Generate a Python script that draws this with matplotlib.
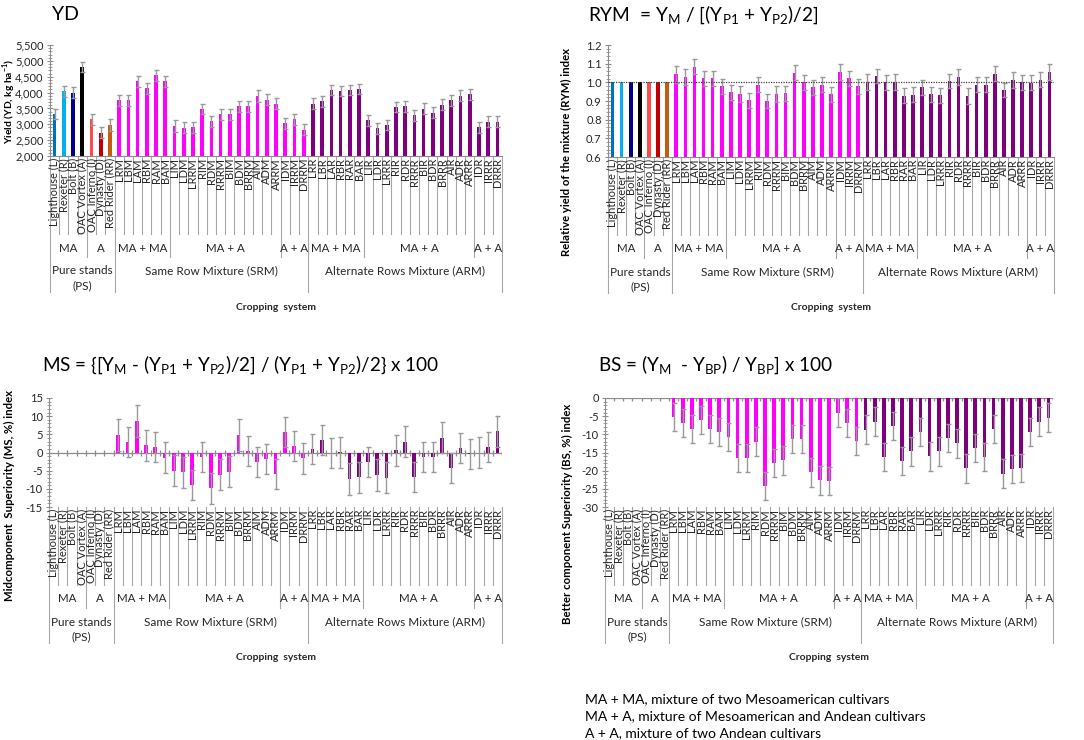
import numpy as np
import matplotlib
matplotlib.use('Agg')
import matplotlib.pyplot as plt
import matplotlib.transforms as mtransforms
from matplotlib.ticker import MultipleLocator, StrMethodFormatter

plt.rcParams['font.family'] = ['Lato', 'DejaVu Sans']
plt.rcParams['mathtext.fontset'] = 'custom'
plt.rcParams['mathtext.rm'] = 'Lato'
plt.rcParams['mathtext.bf'] = 'Lato:bold'
plt.rcParams['axes.unicode_minus'] = False

# --- data ---
pure = ['Lighthouse (L)', 'Rexeter (R)', 'Bolt (B)', 'OAC Vortex (A)',
        'OAC Inferno (I)', 'Dynasty (D)', 'Red Rider (RR)']
srm = ['LRM', 'LBM', 'LAM', 'RBM', 'RAM', 'BAM',
       'LIM', 'LDM', 'LRRM', 'RIM', 'RDM', 'RRRM', 'BIM', 'BDM', 'BRRM', 'AIM', 'ADM', 'ARRM',
       'IDM', 'IRRM', 'DRRM']
arm = ['LRR', 'LBR', 'LAR', 'RBR', 'RAR', 'BAR',
       'LIR', 'LDR', 'LRRR', 'RIR', 'RDR', 'RRRR', 'BIR', 'BDR', 'BRRR', 'AIR', 'ADR', 'ARRR',
       'IDR', 'IRRR', 'DRRR']
cats = pure + srm + arm

yd = [3320, 4040, 3990, 4800, 3160, 2730, 2980,
      3760, 3760, 4360, 4130, 4540, 4360,
      2960, 2890, 2900, 3470, 3090, 3320, 3320, 3570, 3570, 3890, 3780, 3650,
      3030, 3160, 2830,
      3650, 3730, 4080, 4050, 4080, 4100,
      3130, 2875, 2980, 3550, 3570, 3280, 3490, 3370, 3620, 3760, 3900, 3950,
      2900, 3080, 3080]
yd_err = [160, 170, 170, 150, 170, 170, 180,
          170, 170, 170, 170, 160, 170,
          190, 170, 160, 160, 180, 170, 170, 170, 170, 180, 170, 170,
          170, 170, 170,
          170, 170, 170, 170, 170, 160,
          170, 170, 170, 160, 170, 170, 170, 170, 170, 170, 170, 170,
          170, 170, 170]

rym = [1.0, 1.0, 1.0, 1.0, 1.0, 1.0, 1.0,
       1.043, 1.029, 1.084, 1.021, 1.021, 0.980,
       0.946, 0.939, 0.905, 0.986, 0.900, 0.939, 0.941, 1.052, 1.000, 0.973, 0.986, 0.935,
       1.054, 1.021, 0.978,
       1.002, 1.034, 1.000, 1.002, 0.928, 0.934,
       0.973, 0.935, 0.930, 1.007, 1.029, 0.928, 0.986, 0.987, 1.045, 0.959, 1.013, 1.000,
       0.998, 1.014, 1.057]
rym_err = [0, 0, 0, 0, 0, 0, 0,
           0.045, 0.041, 0.041, 0.038, 0.038, 0.040,
           0.040, 0.042, 0.040, 0.040, 0.040, 0.042, 0.040, 0.040, 0.040, 0.042, 0.040, 0.040,
           0.042, 0.038, 0.040,
           0.042, 0.040, 0.040, 0.042, 0.040, 0.040,
           0.040, 0.040, 0.042, 0.040, 0.042, 0.042, 0.040, 0.040, 0.040, 0.040, 0.042, 0.040,
           0.040, 0.040, 0.042]

ms = [0, 0, 0, 0, 0, 0, 0,
      4.7, 2.9, 8.7, 2.0, 1.5, -1.4,
      -5.0, -5.5, -9.0, -1.2, -9.9, -6.1, -5.3, 4.7, 0.4, -2.6, -1.8, -5.9,
      5.7, 1.8, -1.6,
      0.9, 3.4, -0.2, 0.1, -7.4, -6.8,
      -2.6, -6.2, -6.9, 0.6, 3.0, -6.8, -1.3, -1.3, 4.1, -4.2, 1.3, -0.4,
      -0.1, 1.5, 5.8]
ms_err = [0, 0, 0, 0, 0, 0, 0,
          4.4, 4.2, 4.3, 4.3, 4.2, 4.2,
          4.2, 4.2, 4.2, 4.2, 4.2, 4.2, 4.2, 4.4, 4.2, 4.2, 4.2, 4.2,
          4.2, 4.2, 4.2,
          4.2, 4.2, 4.2, 4.3, 4.4, 4.3,
          4.2, 4.3, 4.3, 4.2, 4.2, 4.2, 4.2, 4.2, 4.2, 4.2, 4.2, 4.2,
          4.3, 4.2, 4.2]

bs = [0, 0, 0, 0, 0, 0, 0,
      -5.3, -6.9, -8.5, -6.0, -8.5, -9.3,
      -10.8, -16.6, -16.6, -12.0, -24.2, -17.8, -17.2, -11.3, -11.3, -20.5, -22.7, -22.8,
      -4.0, -6.9, -11.8,
      -8.7, -6.5, -16.3, -7.7, -17.3, -14.7,
      -9.3, -16.1, -14.7, -11.0, -12.5, -19.4, -13.7, -16.2, -8.6, -20.8, -19.6, -19.3,
      -9.3, -6.5, -5.4]
bs_err = [0, 0, 0, 0, 0, 0, 0,
          3.9, 3.9, 3.9, 3.9, 3.9, 3.9,
          3.9, 3.9, 3.9, 3.9, 3.9, 3.9, 3.9, 3.9, 3.9, 3.9, 3.9, 3.9,
          3.9, 3.9, 3.9,
          3.9, 3.9, 3.9, 3.9, 3.9, 3.9,
          3.9, 3.9, 3.9, 3.9, 3.9, 3.9, 3.9, 3.9, 3.9, 3.9, 3.9, 3.9,
          3.9, 3.9, 3.9]

lvl2 = [('MA', 1.5), ('A', 5), ('MA + MA', 9.5), ('MA + A', 18.5), ('A + A', 26),
        ('MA + MA', 30.5), ('MA + A', 39.5), ('A + A', 47)]
lvl2_bounds = [3.5, 12.5, 24.5, 33.5, 45.5]
lvl3 = [('Pure stands', 3), ('Same Row Mixture (SRM)', 17), ('Alternate Rows Mixture (ARM)', 38)]
lvl3_bounds = [-0.5, 6.5, 27.5, 48.5]

notes = ['MA + MA, mixture of two Mesoamerican cultivars',
         'MA + A, mixture of Mesoamerican and Andean cultivars',
         'A + A, mixture of two Andean cultivars']

# --- style ---
pure_cols = ['#0070C0', '#00B0F0', '#00008B', '#000000', '#FF4B4B', '#C00000', '#C55A11']
colors = pure_cols + ['#FF00FF'] * len(srm) + ['#7F007F'] * len(arm)
GRAY = '#8C8C8C'
EGRAY = '#999999'
TXT = '#262626'

W, H = 1084, 740
fig = plt.figure(figsize=(W / 100, H / 100), dpi=100)
n = len(cats)
x = np.arange(n)


def panel(l, t, r, b):
    return fig.add_axes([l / W, 1 - b / H, (r - l) / W, (b - t) / H])


def style(ax, lo, hi, major, minor, fmt):
    ax.set_xlim(-0.5, n - 0.5)
    ax.set_ylim(lo, hi)
    for s in ['top', 'right', 'bottom']:
        ax.spines[s].set_visible(False)
    ax.spines['left'].set_color(GRAY)
    ax.yaxis.set_major_locator(MultipleLocator(major))
    ax.yaxis.set_minor_locator(MultipleLocator(minor))
    ax.yaxis.set_major_formatter(StrMethodFormatter(fmt))
    ax.tick_params(axis='y', which='major', direction='inout', length=5, color=GRAY,
                   labelsize=8, labelcolor=TXT, pad=2)
    ax.tick_params(axis='y', which='minor', direction='inout', length=3, color=GRAY)
    ax.set_xticks([])


def xaxis_line(ax, y0, hpx, tick_px=3):
    ax.axhline(y0, color=GRAY, lw=0.9, zorder=1)
    lo, hi = ax.get_ylim()
    d = tick_px * (hi - lo) / hpx
    ax.vlines(np.arange(-0.5, n), y0 - d, y0 + d, color=GRAY, lw=0.9, zorder=1)


def bars(ax, vals, errs):
    ax.bar(x, vals, width=0.4, color=colors, zorder=2)
    v = np.array(vals, float)
    e = np.array(errs, float)
    m = e > 0
    ax.errorbar(x[m], v[m], yerr=e[m], fmt='none', ecolor=EGRAY, elinewidth=1,
                capsize=1.8, capthick=1, zorder=3)


def categories(ax, hpx):
    tr = mtransforms.blended_transform_factory(ax.transData, ax.transAxes)
    f = lambda px: -px / hpx
    for i, c in enumerate(cats):
        ax.text(i, f(2), c, rotation=90, ha='center', va='top', fontsize=8.0,
                color=TXT, transform=tr)
    for b in np.arange(-0.5, n):
        depth = 78
        if b in lvl3_bounds:
            depth = 136
        elif b in lvl2_bounds:
            depth = 101
        ax.plot([b, b], [0, f(depth)], color='#A6A6A6', lw=0.8, transform=tr, clip_on=False)
    for lab, pos in lvl2:
        ax.text(pos, f(92), lab, ha='center', va='center', fontsize=8.3, color=TXT, transform=tr)
    for lab, pos in lvl3:
        ax.text(pos, f(115), lab, ha='center', va='center', fontsize=8.5, color=TXT, transform=tr)
    ax.text(3, f(130), '(PS)', ha='center', va='center', fontsize=8.5, color=TXT, transform=tr)
    ax.text(0.5, f(151), 'Cropping  system', ha='center', va='center', fontsize=7.5,
            fontweight='bold', color=TXT, transform=ax.transAxes)


# YD
ax1 = panel(50, 45, 502, 156)
style(ax1, 2000, 5500, 500, 100, '{x:,.0f}')
bars(ax1, yd, yd_err)
ax1.spines['bottom'].set_visible(True)
ax1.spines['bottom'].set_color(GRAY)
categories(ax1, 111)

# RYM
ax2 = panel(608, 45, 1054, 157)
style(ax2, 0.6, 1.2, 0.1, 0.02, '{x:.1f}')
bars(ax2, rym, rym_err)
ax2.axhline(1.0, color='#404040', lw=0.9, ls=(0, (1, 1)), zorder=4)
ax2.spines['bottom'].set_visible(True)
ax2.spines['bottom'].set_color(GRAY)
categories(ax2, 112)

# MS
ax3 = panel(49, 398, 502, 507)
style(ax3, -15, 15, 5, 1, '{x:.0f}')
xaxis_line(ax3, 0, 109)
bars(ax3, ms, ms_err)
categories(ax3, 109)

# BS
ax4 = panel(605, 398, 1053, 507)
style(ax4, -30, 0, 5, 1, '{x:.0f}')
xaxis_line(ax4, 0, 109)
bars(ax4, bs, bs_err)
categories(ax4, 109)


# titles
def ftext(px, py, s, **kw):
    fig.text(px / W, 1 - py / H, s, **kw)


ftext(52, 14, 'YD', fontsize=14, va='center', color='black')
ftext(588, 15, r'RYM  = Y$_{\mathrm{M}}$ / [(Y$_{\mathrm{P1}}$ + Y$_{\mathrm{P2}}$)/2]',
      fontsize=13.8, va='center', color='black')
ftext(42, 365, r'MS = {[Y$_{\mathrm{M}}$ - (Y$_{\mathrm{P1}}$ + Y$_{\mathrm{P2}}$)/2] / '
      r'(Y$_{\mathrm{P1}}$ + Y$_{\mathrm{P2}}$)/2} x 100', fontsize=13.6, va='center', color='black')
ftext(598, 365, r'BS = (Y$_{\mathrm{M}}$  - Y$_{\mathrm{BP}}$) / Y$_{\mathrm{BP}}$] x 100',
      fontsize=13.6, va='center', color='black')

# y labels
ylab = dict(rotation=90, ha='center', va='center', fontweight='bold', color='black')
ftext(9, 101, r'Yield (YD, kg ha$^{\mathbf{-1}}$)', fontsize=7.4, **ylab)
ftext(566, 152, 'Relative yield of the mixture (RYM) index', fontsize=8.2, **ylab)
ftext(9, 495, 'Midcomponent  Superiority (MS, %) index', fontsize=8.2, **ylab)
ftext(567, 514, 'Better component Superiority (BS, %) index', fontsize=8.2, **ylab)

for i, s in enumerate(notes):
    ftext(585, 699 + 17 * i, s, fontsize=10, va='center', color='black')

fig.savefig('out.png', dpi=100)
